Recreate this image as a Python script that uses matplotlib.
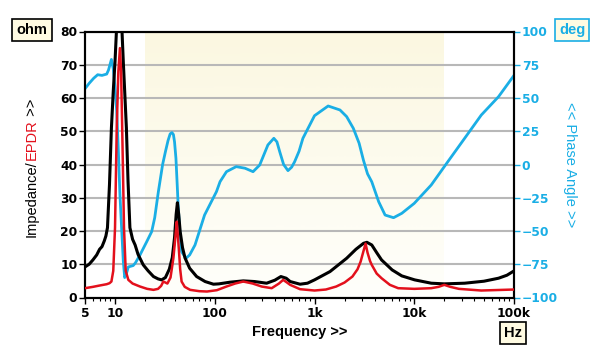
import numpy as np
import matplotlib
matplotlib.use("Agg")
import matplotlib.pyplot as plt
from matplotlib.ticker import FixedLocator, LogLocator, NullFormatter

plt.rcParams["font.family"] = ["Liberation Sans", "DejaVu Sans"]

# ── data ────────────────────────────────────────────────────────────────────
IMP_F = [5, 5.5, 6, 6.55, 7, 7.4, 7.8, 8.1, 8.4, 8.8, 9.2, 9.6, 10.0, 10.4, 11.0,
         11.6, 12.1, 12.5, 13.0, 13.5, 14.1, 15.0, 15.9, 17, 19.2, 21.5, 24.3,
         27, 29.3, 32, 35, 37.5, 39.5, 41, 42.2, 43.5, 45, 47.5, 50.3, 56, 65.8,
         80, 97, 110, 142, 193, 250, 331, 400, 460, 520, 570, 716, 850, 1000,
         1430, 2100, 2600, 3100, 3350, 3750, 4200, 4700, 6000, 7500, 10100,
         14800, 20000, 32000, 50000, 70000, 85000, 100000]
IMP_Z = [9.2, 10, 11.3, 12.8, 14.5, 15.3, 17, 18.5, 21, 34, 51, 62, 71, 82, 90,
         84, 71, 62, 51, 35, 21, 17.5, 15.8, 13, 9.8, 8, 6.3,
         5.6, 5.3, 6, 8.5, 12, 18, 25, 28.5, 25, 19.8, 15, 11.9, 8.8, 6.3,
         4.8, 4.0, 4.1, 4.6, 5.0, 4.8, 4.3, 5.2, 6.3, 5.8, 4.8, 4.0, 4.3, 5.3,
         7.8, 11.8, 14.5, 16.3, 16.6, 15.8, 13.5, 11.3, 8.3, 6.5, 5.3,
         4.3, 4.1, 4.3, 4.9, 5.8, 6.7, 8.0]

EPDR_F = [5, 6, 7, 7.6, 8.25, 8.8, 9.2, 9.6, 10.0, 10.4, 10.8, 11.2, 11.5,
          11.8, 12.3, 12.8, 13.6, 15, 17.8, 21, 24.3, 27, 29, 30.5, 32,
          33.5, 36, 38.5, 40.5, 41.6, 42.8, 43.8, 45, 46.5, 50, 56.6, 70, 83.6,
          105, 131, 160, 193, 240, 295, 372, 440, 485, 530, 570, 716, 1000,
          1300, 1650, 2000, 2400, 2700, 2900, 3100, 3250, 3400, 3600, 3750,
          4200, 4700, 5700, 6900, 10000, 14800, 17500, 20000, 23000, 28000,
          47000, 100000]
EPDR_Z = [2.8, 3.2, 3.6, 3.8, 4.0, 4.3, 4.8, 8, 21, 51, 68, 75, 68,
          51, 21, 8, 5.3, 4.2, 3.3, 2.6, 2.3, 2.6, 3.5, 4.8, 4.5,
          4.2, 6, 11.9, 19, 22.8, 18, 13.8, 8.5, 4.8, 3.2, 2.3, 1.9, 1.8,
          2.2, 3.3, 4.2, 4.8, 4.2, 3.3, 2.8, 4.2, 5.3, 4.5, 3.8, 2.5, 2.1,
          2.4, 3.3, 4.5, 6.3, 8.5, 10.8, 14, 16.2, 13.5, 11, 9.8,
          7.2, 5.8, 3.8, 2.8, 2.6, 2.8, 3.2, 3.8, 3.2, 2.6,
          2.1, 2.4]

PH_F = [5, 5.5, 6.1, 6.7, 7.4, 8.25, 8.6, 9.2, 9.6, 10.0, 10.4, 10.8, 11.2,
        12.1, 12.5, 13.0, 13.6, 15.2, 16, 17.8, 20.8, 23.3, 25, 27.2, 30, 32,
        34, 35.7, 37.2, 38.5, 39.5, 40.8, 42, 43.1, 44.8, 46.5, 51.5, 56, 63.4,
        79, 104, 113, 131, 164, 201, 242, 282, 341, 391, 420, 448, 490, 542,
        590, 632, 700, 765, 1000, 1370, 1800, 2100, 2450, 2800, 3100, 3400,
        3750, 4400, 5100, 6200, 7500, 10000, 14800, 21700, 32000, 47000, 70000,
        100000]
PH_D = [57, 61, 64.8, 67.5, 67, 68, 71, 79, 72, 58, 40, 10, -22.7,
        -72.6, -85, -82, -77, -76, -74, -68, -58, -50.5, -40, -20.4, 0, 9.6,
        18, 23, 24, 22.5, 17, 4.7, -15, -33, -52, -65.6, -70.5, -68, -60.5,
        -38, -20.4, -12.9, -5.4, -1.6, -2.8, -5.4, -0.4, 14.7, 19.7, 17, 9.6, 0,
        -4.6, -2, 2.1, 10, 19.7, 36.7, 44, 41, 36, 27.2, 16, 3, -7,
        -13, -28, -38, -40, -36.7, -29.2, -15.4, 2.1, 19.7, 37.2, 51,
        67]

BAND = (20, 20000)
X_TICKS = [5, 10, 100, 1000, 10000, 100000]
X_LABELS = ["5", "10", "100", "1k", "10k", "100k"]
OHM_TICKS = list(range(0, 81, 10))
DEG_TICKS = list(range(-100, 101, 25))

RED, BLUE = "#e3101c", "#1aaee5"
W, H = 600, 356
TICK_FONT = dict(family="DejaVu Sans", weight="bold", size=8.8)

fig = plt.figure(figsize=(W / 100, H / 100), dpi=100)
ax = fig.add_axes([85 / W, 1 - 297.5 / H, 429 / W, 266 / H])
axp = ax.twinx()
ax.set_zorder(axp.get_zorder() + 1)   # impedance curves above phase
ax.patch.set_visible(False)

ax.set_xscale("log")

# audio band shading, faded towards the bottom
grad = np.linspace(0, 1, 256)[:, None]
cols = (np.array([1.0, 1.0, 0.985]) * (1 - grad[..., None])
        + np.array([0.985, 0.97, 0.88]) * grad[..., None])
axp.imshow(cols, extent=(BAND[0], BAND[1], -100, 100), origin="lower",
           aspect="auto", zorder=0, interpolation="bilinear")

ax.set_xlim(5, 100000)
ax.set_ylim(0, 80)
axp.set_ylim(-100, 100)

ax.xaxis.set_major_locator(FixedLocator(X_TICKS))
ax.set_xticklabels(X_LABELS)
ax.xaxis.set_minor_locator(LogLocator(base=10, subs=np.arange(2, 10)))
ax.xaxis.set_minor_formatter(NullFormatter())
ax.set_yticks(OHM_TICKS)
axp.set_yticks(DEG_TICKS)

# grid lives on the lower axes
axp.grid(which="minor", axis="x", color="#d6d6d6", lw=1.2, zorder=1)
axp.grid(which="major", axis="x", color="#9a9a9a", lw=1.0, zorder=1)
axp.grid(which="major", axis="y", color="#b8b8b8", lw=1.5, zorder=1)

axp.plot(PH_F, PH_D, color=BLUE, lw=2.0, zorder=3, solid_joinstyle="round")
ax.plot(IMP_F, IMP_Z, color="black", lw=2.2, zorder=3, solid_joinstyle="round")
ax.plot(EPDR_F, EPDR_Z, color=RED, lw=1.8, zorder=4, solid_joinstyle="round")

ax.tick_params(axis="x", which="major", length=4, width=1, pad=3)
ax.tick_params(axis="x", which="minor", length=2.5, width=0.8)
ax.tick_params(axis="y", length=4, width=1, pad=1.5)
axp.tick_params(axis="y", length=4, width=1, pad=1.5, colors=BLUE)
for lab in ax.get_xticklabels() + ax.get_yticklabels() + axp.get_yticklabels():
    lab.set(**TICK_FONT)

for a in (ax, axp):
    for s in a.spines.values():
        s.set_linewidth(1.5)
        s.set_color("black")

# axis labels
fig.text(300 / W, 1 - 332 / H, "Frequency >>", ha="center", va="center",
         fontsize=10.5, fontweight="bold")
fig.text(570 / W, 1 - 165 / H, "<< Phase Angle >>", ha="center", va="center",
         rotation=270, fontsize=10.5, color=BLUE)

fig.canvas.draw()
rend = fig.canvas.get_renderer()
ypix = 237
for txt, col in [("Impedance/", "black"), ("EPDR", RED), (" >>", "black")]:
    t = fig.text(32 / W, 1 - ypix / H, txt, color=col, rotation=90,
                 rotation_mode="anchor", ha="left", va="center", fontsize=10.5)
    ypix -= t.get_window_extent(rend).height

box = dict(boxstyle="square,pad=0.28", fc="#fffbe2", lw=1.2)
fig.text(32 / W, 1 - 30 / H, "ohm", ha="center", va="center", fontsize=10.5,
         fontweight="bold", bbox=dict(box, ec="black"))
fig.text(572 / W, 1 - 30 / H, "deg", ha="center", va="center", fontsize=10.5,
         fontweight="bold", color=BLUE, bbox=dict(box, ec=BLUE))
fig.text(513 / W, 1 - 333 / H, "Hz", ha="center", va="center", fontsize=10.5,
         fontweight="bold", bbox=dict(box, ec="black"))

fig.savefig("out.png", dpi=100)
